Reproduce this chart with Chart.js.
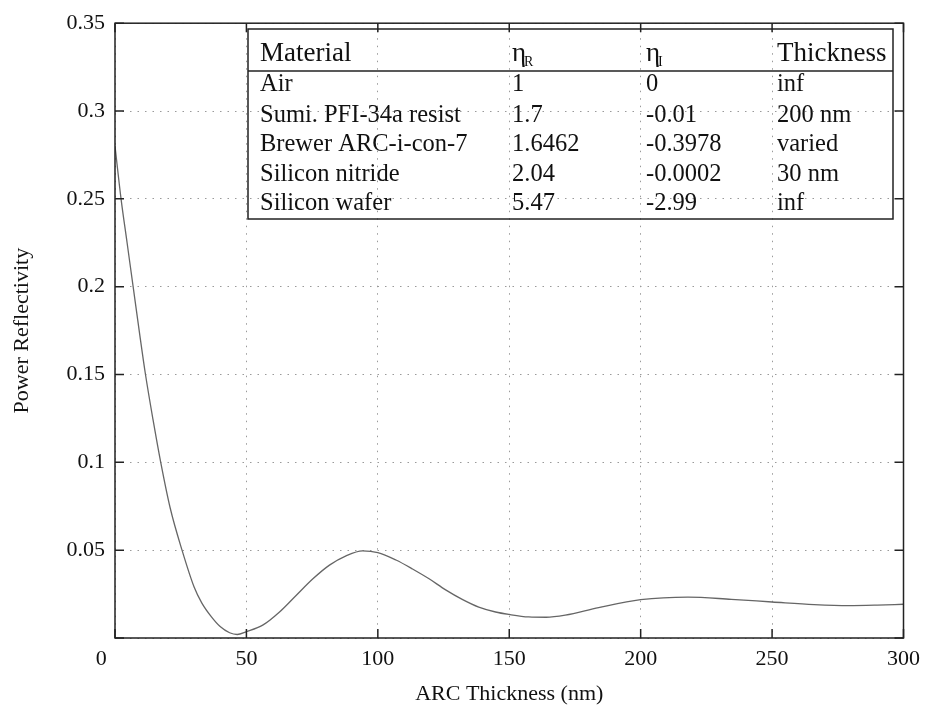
<!DOCTYPE html>
<html>
<head>
<meta charset="utf-8">
<script src="https://cdn.jsdelivr.net/npm/chart.js@4.4.1/dist/chart.umd.min.js"></script>
<style>
  body { margin: 0; background: #fff; }
  #wrap { width: 928px; height: 715px; }
</style>
</head>
<body>
<div id="wrap"><canvas id="reflChart" width="928" height="715"></canvas></div>
<script>
// ARC thickness (nm) and power reflectivity
const thicknessNm = [0, 2.3, 4.6, 6.9, 9.2, 11.6, 14.5, 17.4, 21, 25.5, 30.1, 33, 36.7, 40, 43.6, 46.5,
    50, 56.2, 62.6, 68.9, 75.3, 81.6, 87.9, 94.2, 100, 106.9, 113.2, 119.5, 125.8, 132.1, 138.4, 144.8,
    150, 157.4, 164, 171.3, 184, 200, 218, 234.5, 250, 266, 279, 290, 300];
const reflectivity = [0.280, 0.250, 0.225, 0.200, 0.175, 0.150, 0.124, 0.100, 0.074, 0.050, 0.029, 0.020, 0.012, 0.0065, 0.003, 0.002,
    0.0036, 0.0073, 0.0148, 0.0242, 0.0337, 0.0415, 0.0468, 0.0496, 0.0486, 0.0444, 0.0393, 0.0337, 0.0274, 0.0220, 0.0176, 0.0148,
    0.0134, 0.0120, 0.0118, 0.0130, 0.0173, 0.0218, 0.0233, 0.0220, 0.0205, 0.0190, 0.0184, 0.0187, 0.0192];

const xTickValues = [0, 50, 100, 150, 200, 250, 300];
const yTickValues = [0, 0.05, 0.1, 0.15, 0.2, 0.25, 0.3, 0.35];

// table of layers
const materials = ['Air', 'Sumi. PFI-34a resist', 'Brewer ARC-i-con-7', 'Silicon nitride', 'Silicon wafer'];
const nReal = ['1', '1.7', '1.6462', '2.04', '5.47'];
const nImag = ['0', '-0.01', '-0.3978', '-0.0002', '-2.99'];
const layerThickness = ['inf', '200 nm', 'varied', '30 nm', 'inf'];

const SERIF = '"Liberation Serif", "DejaVu Serif", serif';

// box, inward ticks (MATLAB style)
const boxPlugin = {
    id: 'boxPlugin',
    afterDatasetsDraw(chart) {
        const {ctx, chartArea: a, scales} = chart;
        ctx.save();
        ctx.strokeStyle = '#222';
        ctx.lineWidth = 1.5;
        const len = 9;
        scales.x.ticks.forEach(t => {
            const px = scales.x.getPixelForValue(t.value);
            ctx.beginPath();
            ctx.moveTo(px, a.bottom); ctx.lineTo(px, a.bottom - len);
            ctx.moveTo(px, a.top); ctx.lineTo(px, a.top + len);
            ctx.stroke();
        });
        scales.y.ticks.forEach(t => {
            const py = scales.y.getPixelForValue(t.value);
            ctx.beginPath();
            ctx.moveTo(a.left, py); ctx.lineTo(a.left + len, py);
            ctx.moveTo(a.right, py); ctx.lineTo(a.right - len, py);
            ctx.stroke();
        });
        ctx.strokeRect(a.left, a.top, a.right - a.left, a.bottom - a.top);
        ctx.restore();
    }
};

// the materials table in the upper right
const tablePlugin = {
    id: 'tablePlugin',
    afterDraw(chart) {
        const {ctx} = chart;
        const left = 248, top = 29, right = 893, bottom = 219;
        const cols = [260, 512, 646, 777];
        ctx.save();
        ctx.strokeStyle = '#222';
        ctx.lineWidth = 1.5;
        ctx.strokeRect(left, top, right - left, bottom - top);
        ctx.beginPath();
        ctx.moveTo(left, 71); ctx.lineTo(right, 71);
        ctx.stroke();

        ctx.fillStyle = '#111';
        ctx.textBaseline = 'middle';
        ctx.textAlign = 'left';
        const hy = 54;
        ctx.font = '27px ' + SERIF;
        ctx.fillText('Material', cols[0], hy);
        ctx.fillText('Thickness', cols[3], hy);
        ctx.fillText('\u03b7', cols[1], hy);
        ctx.fillText('\u03b7', cols[2], hy);
        const w = ctx.measureText('\u03b7').width;
        ctx.font = '14px ' + SERIF;
        ctx.fillText('R', cols[1] + w - 2, hy + 8);
        ctx.fillText('I', cols[2] + w - 2, hy + 8);

        ctx.font = '24.5px ' + SERIF;
        const rowY = [85, 115.5, 145, 174.5, 204];
        materials.forEach((m, i) => {
            ctx.fillText(m, cols[0], rowY[i]);
            ctx.fillText(nReal[i], cols[1], rowY[i]);
            ctx.fillText(nImag[i], cols[2], rowY[i]);
            ctx.fillText(layerThickness[i], cols[3], rowY[i]);
        });
        ctx.restore();
    }
};

const fmt = v => (Math.round(v * 100) / 100).toString();

new Chart(document.getElementById('reflChart'), {
    type: 'line',
    data: {
        datasets: [{
            data: thicknessNm.map((x, i) => ({x: x, y: reflectivity[i]})),
            borderColor: '#666',
            borderWidth: 1.3,
            pointRadius: 0,
            fill: false,
            cubicInterpolationMode: 'monotone'
        }]
    },
    options: {
        responsive: false,
        animation: false,
        layout: {padding: {top: 17, right: 22, left: 0, bottom: 0}},
        plugins: {legend: {display: false}, tooltip: {enabled: false}},
        scales: {
            x: {
                type: 'linear',
                min: 0, max: 300,
                afterBuildTicks: s => { s.ticks = xTickValues.map(v => ({value: v})); },
                afterFit: s => { s.height = 77; },
                ticks: {
                    color: '#111',
                    font: {family: SERIF, size: 22},
                    padding: 8,
                    maxRotation: 0,
                    // the "0" sits a little left of the axis in the original
                    callback: v => v === 0 ? '0\u00a0\u00a0\u00a0\u00a0\u00a0' : fmt(v)
                },
                grid: {color: '#9a9a9a', lineWidth: 1, drawTicks: false},
                border: {display: false, dash: [1.5, 6]},
                title: {
                    display: true,
                    text: 'ARC Thickness (nm)',
                    color: '#111',
                    font: {family: SERIF, size: 22},
                    padding: {top: 0, bottom: 8}
                }
            },
            y: {
                min: 0, max: 0.35,
                afterBuildTicks: s => { s.ticks = yTickValues.map(v => ({value: v})); },
                afterFit: s => { s.width = 115; },
                ticks: {
                    color: '#111',
                    font: {family: SERIF, size: 22},
                    padding: 10,
                    callback: v => v === 0 ? '' : fmt(v)
                },
                grid: {color: '#9a9a9a', lineWidth: 1, drawTicks: false},
                border: {display: false, dash: [1.5, 6]},
                title: {
                    display: true,
                    text: 'Power Reflectivity',
                    color: '#111',
                    font: {family: SERIF, size: 22},
                    padding: {top: 9, bottom: 0}
                }
            }
        }
    },
    plugins: [boxPlugin, tablePlugin]
});
</script>
</body>
</html>
